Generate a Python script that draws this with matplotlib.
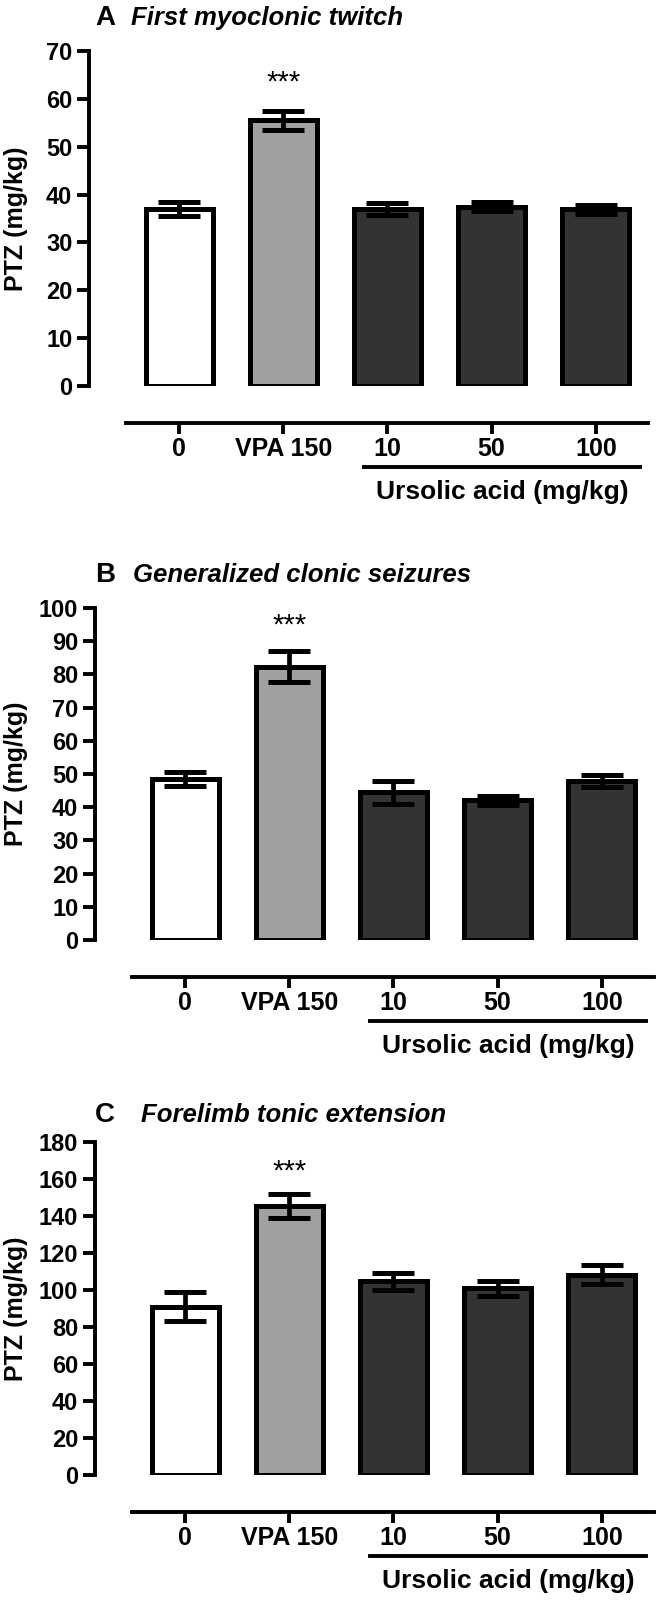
import numpy as np
import matplotlib
matplotlib.use("Agg")
from matplotlib import pyplot as plt
from matplotlib import transforms

plt.rcParams['font.family'] = ['Liberation Sans', 'DejaVu Sans']
plt.rcParams['font.weight'] = 'bold'

groups = ["0", "VPA 150", "10", "50", "100"]
bar_colors = ["#ffffff", "#a0a0a0", "#333333", "#333333", "#333333"]

titles = ["First myoclonic twitch", "Generalized clonic seizures", "Forelimb tonic extension"]
letters = ["A", "B", "C"]

means_a = [37.0, 55.5, 37.0, 37.5, 36.9]
sem_a = [1.5, 2.0, 1.3, 1.0, 0.95]
means_b = [48.5, 82.3, 44.5, 42.1, 47.9]
sem_b = [2.1, 4.6, 3.5, 1.4, 1.9]
means_c = [91.0, 145.4, 104.6, 100.9, 108.3]
sem_c = [7.7, 6.6, 4.4, 4.0, 5.0]

ymax = [70, 100, 180]
ystep = [10, 10, 20]

W, H = 661, 1601
fig = plt.figure(figsize=(W / 100, H / 100), dpi=100)
PT = 100 / 72  # px per point

# pixel layout (from top): y-axis x, top tick y, zero y, title y, title text x
yaxis_x = [88.5, 94.5, 94.5]
top_y = [51, 608, 1142]
zero_y = [386, 940, 1475]
title_y = [18, 575, 1115]
title_x = [131, 133, 141]
star_gap = [28, 26, 22]   # px between VPA error cap and the stars

ax_w = 572          # axes width in px
first_c = 90.5      # px from y-axis to first bar centre
step = 104.2        # px between bar centres
x0 = -first_c / step
x1 = (ax_w - first_c) / step


def px_to_data(px):
    return (px - first_c) / step


panels = [(means_a, sem_a), (means_b, sem_b), (means_c, sem_c)]
for i, (means, sems) in enumerate(panels):
    top, zero = top_y[i], zero_y[i]
    ax = fig.add_axes([yaxis_x[i] / W, 1 - zero / H, ax_w / W, (zero - top) / H])
    x = np.arange(len(groups))
    ax.bar(x, means, width=67 / step, color=bar_colors, edgecolor="black",
           linewidth=3.6, zorder=2)
    ax.errorbar(x, means, yerr=sems, fmt="none", ecolor="black", elinewidth=3.4,
                capsize=15, capthick=3.6, zorder=3)
    ax.set_xlim(x0, x1)
    ax.set_ylim(0, ymax[i])
    ax.set_yticks(np.arange(0, ymax[i] + 1, ystep[i]))
    for s in ["top", "right"]:
        ax.spines[s].set_visible(False)
    ax.spines["left"].set_linewidth(2.8)
    ax.spines["left"].set_bounds(0, ymax[i])
    ax.spines["bottom"].set_linewidth(2.8)
    ax.spines["bottom"].set_position(("outward", 37 / PT))
    ax.spines["bottom"].set_bounds(px_to_data(37), px_to_data(560))
    ax.set_xticks(x)
    ax.set_xticklabels(groups)
    ax.tick_params(axis="y", length=12 / PT, width=2.8, labelsize=17, pad=3)
    ax.tick_params(axis="x", length=11 / PT, width=2.8, labelsize=18, pad=2.5)
    ax.set_ylabel("PTZ (mg/kg)", fontsize=18, fontweight="bold", va="center")
    ax.yaxis.set_label_coords((16 - yaxis_x[i]) / ax_w, 0.5)
    ax.patch.set_visible(False)

    # significance marks over VPA
    ax.annotate("***", (1, means[1] + sems[1]), xytext=(0, star_gap[i] / PT),
                textcoords="offset points", ha="center", va="center",
                fontsize=21, fontweight="normal")

    # panel title
    fig.text(95 / W, 1 - title_y[i] / H, letters[i], fontsize=20, fontweight="bold",
             va="center", ha="left")
    fig.text(title_x[i] / W, 1 - title_y[i] / H, titles[i], fontsize=18.5,
             fontweight="bold", style="italic", va="center", ha="left")

    # ursolic acid underline and label
    trans = transforms.blended_transform_factory(ax.transData, fig.transFigure)
    yline = 1 - (zero + 81) / H
    ax.plot([px_to_data(275), px_to_data(551)], [yline, yline],
            color="black", lw=2.8, transform=trans, clip_on=False)
    ax.text(px_to_data(414), 1 - (zero + 106) / H, "Ursolic acid (mg/kg)",
            transform=trans, ha="center", va="center", fontsize=19)

fig.savefig("out.png", dpi=100)
